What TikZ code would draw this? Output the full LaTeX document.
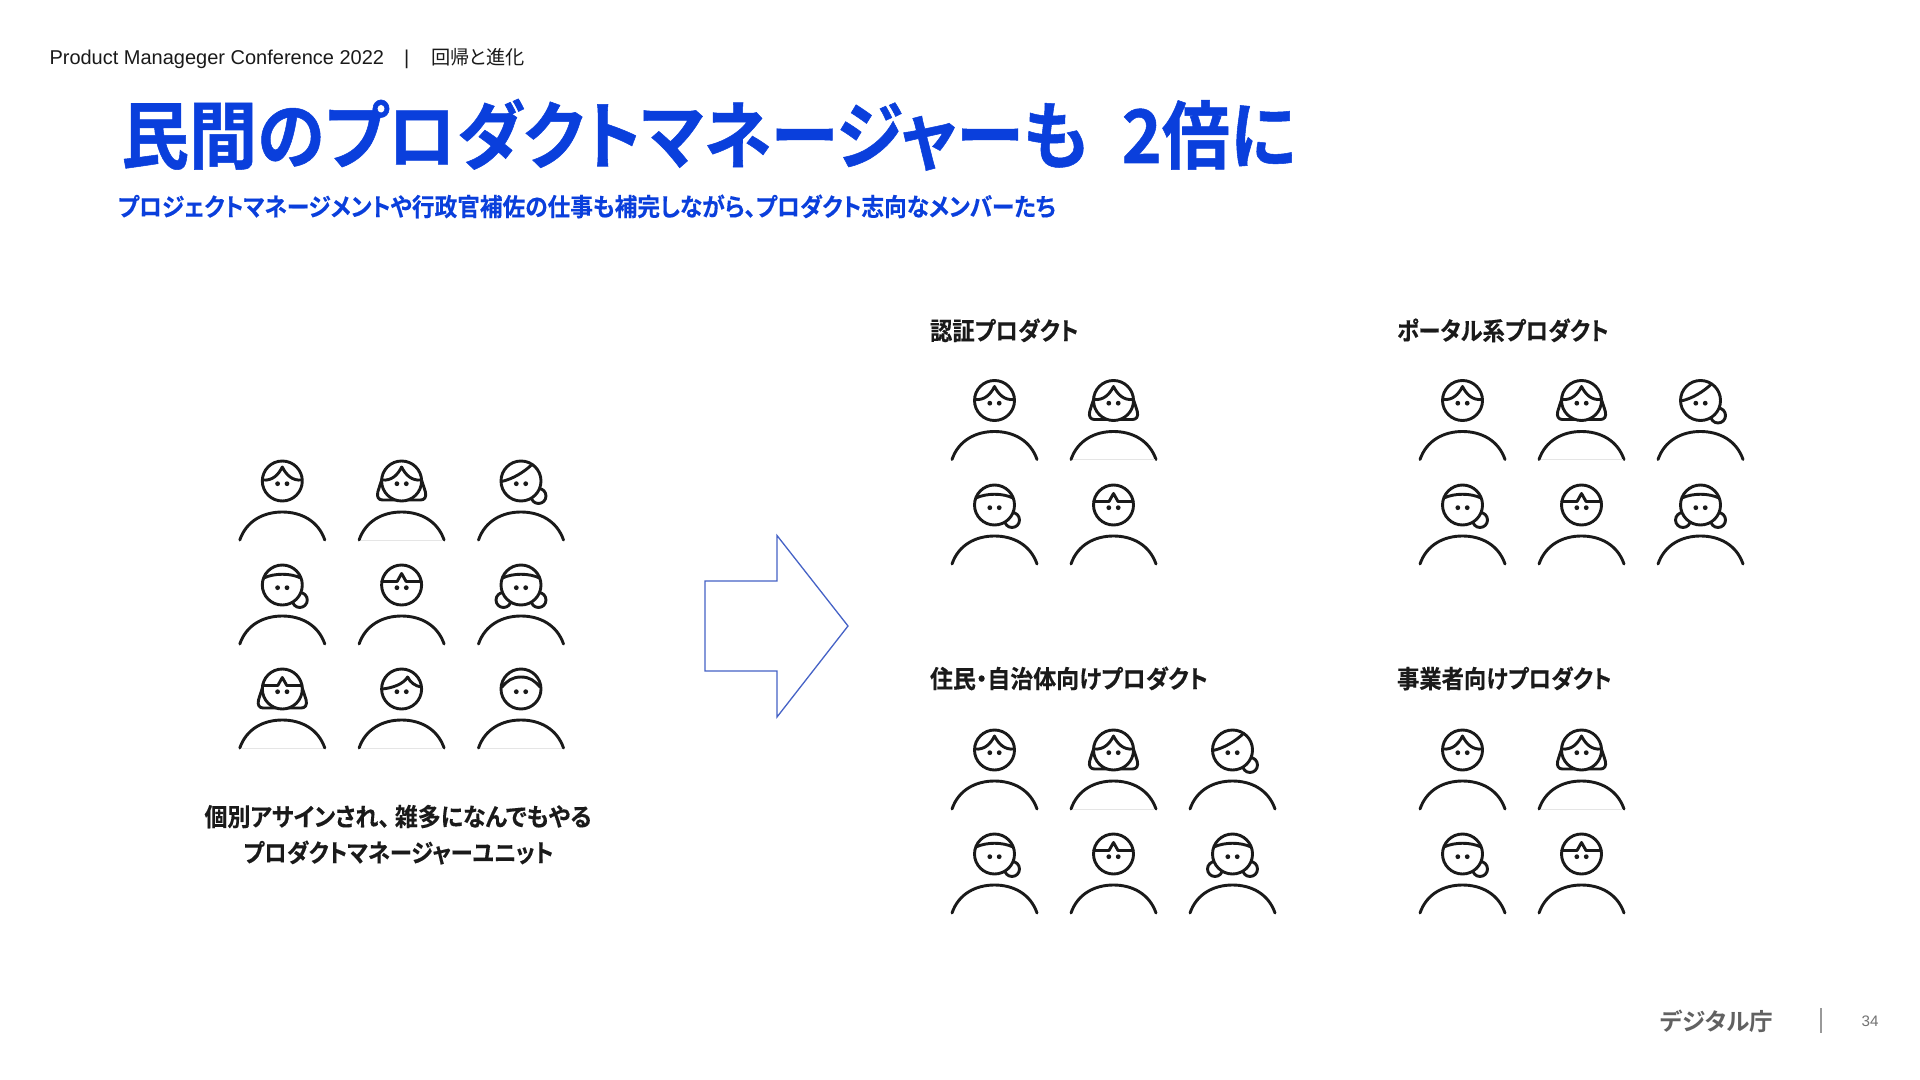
\documentclass[tikz,border=0pt]{standalone}
\usepackage{fontspec}
\setmainfont{Liberation Sans}
\newfontfamily\jpb[RawFeature=+palt]{Noto Sans CJK JP Bold}
\newfontfamily\jpt[RawFeature=+palt,FakeStretch=0.92,FakeBold=0.7]{Noto Sans CJK JP Bold}
\newfontfamily\jps[RawFeature=+palt,FakeStretch=0.914,FakeBold=0.25]{Noto Sans CJK JP Bold}
\newfontfamily\jpl[RawFeature=+palt,FakeStretch=0.9,FakeBold=0.25]{Noto Sans CJK JP Bold}
\newfontfamily\jpw[RawFeature=+palt,FakeStretch=0.925,FakeBold=0.25]{Noto Sans CJK JP Bold}
\newfontfamily\jpr[RawFeature=+palt]{Noto Sans CJK JP}
\definecolor{dablue}{HTML}{0A3FDC}
\definecolor{inkc}{HTML}{1A1A1A}
\definecolor{arrowc}{HTML}{4562C6}
\tikzset{
  x=0.5pt,y=-0.5pt,
  ln/.style={draw=inkc,line width=1.45pt,line cap=round,line join=round},
  lab/.style={anchor=base west,inner sep=0pt,outer sep=0pt,text=inkc},
  pics/pbody/.style={code={
    \draw[ln] (-42.5,59) .. controls (-36,40) and (-19,31) .. (0,31) .. controls (19,31) and (36,40) .. (42.5,59);
  }},
  pics/pbase/.style={code={\draw[draw=black!10,line width=0.4pt] (-41,59) -- (41,59);}},
  pics/phead/.style={code={
    \draw[ln,fill=white] (0,0) circle (20);
    \fill[inkc] (-4.7,2.7) circle (2.4) (4.7,2.7) circle (2.4);
  }},
  pics/bunr/.style={code={\draw[ln] (17.5,15) circle (7.5);}},
  pics/bunl/.style={code={\draw[ln] (-17.5,15) circle (7.5);}},
  pics/longhair/.style={code={
    \draw[ln,fill=white] (-14,-13) .. controls (-18,-8) and (-21,2) .. (-23.8,11) .. controls (-25,16) and (-23,19) .. (-19,19) -- (19,19) .. controls (23,19) and (25,16) .. (23.8,11) .. controls (21,2) and (18,-8) .. (14,-13);
  }},
  pics/hcenter/.style={code={\draw[ln] (-19.5,-1) .. controls (-10,0) and (-4,-6) .. (0,-14) .. controls (4,-6) and (10,0) .. (19.5,-1);}},
  pics/hside/.style={code={\draw[ln] (-19.5,0.5) .. controls (-8,-2) and (3,-9) .. (11,-16.5);}},
  pics/hband/.style={code={\draw[ln] (-18.5,-7) .. controls (-8,-12) and (8,-12) .. (18.5,-7);}},
  pics/hstar/.style={code={\draw[ln] (-19.7,-3.5) -- (-4.5,-3.5) -- (0,-11.5) -- (4.5,-3.5) -- (19.7,-3.5);}},
  pics/hasym/.style={code={\draw[ln] (-19.5,0) .. controls (-9,-1) and (2,-5) .. (6,-12) .. controls (9,-6) and (14,-3) .. (19.5,-2);}},
  pics/harch/.style={code={\draw[ln] (-19,-2) .. controls (-14,-8) and (-9,-12) .. (0,-12) .. controls (9,-12) and (14,-8) .. (19,-2);}},
  pics/pa/.style={code={\pic{pbody};\pic{phead};\pic{hcenter};}},
  pics/pb/.style={code={\pic{pbody};\pic{pbase};\pic{longhair};\pic{phead};\pic{hcenter};}},
  pics/pc/.style={code={\pic{pbody};\pic{bunr};\pic{phead};\pic{hside};}},
  pics/pd/.style={code={\pic{pbody};\pic{bunr};\pic{phead};\pic{hband};}},
  pics/pe/.style={code={\pic{pbody};\pic{phead};\pic{hstar};}},
  pics/pf/.style={code={\pic{pbody};\pic{bunr};\pic{bunl};\pic{phead};\pic{hband};}},
  pics/pg/.style={code={\pic{pbody};\pic{pbase};\pic{longhair};\pic{phead};\pic{hstar};}},
  pics/ph/.style={code={\pic{pbody};\pic{pbase};\pic{phead};\pic{hasym};}},
  pics/pi/.style={code={\pic{pbody};\pic{pbase};\pic{phead};\pic{harch};}},
}
\begin{document}
\begin{tikzpicture}
\useasboundingbox[fill=white] (0,0) rectangle (1920,1080);
% header
\node[lab,font=\fontsize{10}{12}\selectfont] (conf) at (49.5,65) {Product Manageger Conference 2022};
\node[lab,font=\fontsize{10}{12}\selectfont] (sep) at (404,65) {|};
\node[lab,font=\jpr\fontsize{9.6}{12}\selectfont] (theme) at (431,65) {回帰と進化};
% title
\node[lab,text=dablue,font=\jpt\fontsize{37}{40}\selectfont] (title) at (121,163) {民間のプロダクトマネージャーも\hspace{0.45em}2倍に};
\node[lab,text=dablue,font=\jps\fontsize{12.4}{14}\selectfont] (sub) at (118,216) {プロジェクトマネージメントや行政官補佐の仕事も補完しながら、プロダクト志向なメンバーたち};
% group labels
\node[lab,font=\jpl\fontsize{12.4}{14}\selectfont] (g1) at (930,340) {認証プロダクト};
\node[lab,font=\jpl\fontsize{12.4}{14}\selectfont] (g2) at (1397,340) {ポータル系プロダクト};
\node[lab,font=\jpw\fontsize{12.4}{14}\selectfont] (g3) at (930,688) {住民・自治体向けプロダクト};
\node[lab,font=\jpl\fontsize{12.4}{14}\selectfont] (g4) at (1397,688) {事業者向けプロダクト};
% caption
\node[anchor=base,inner sep=0pt,text=inkc,font=\jpw\fontsize{12.4}{14}\selectfont] (cap1) at (398,826) {個別アサインされ、\hspace{0.2em}雑多になんでもやる};
\node[anchor=base,inner sep=0pt,text=inkc,font=\jpl\fontsize{12.4}{14}\selectfont] (cap2) at (398.5,862) {プロダクトマネージャーユニット};
% arrow
\draw[draw=arrowc,line width=0.65pt,line join=miter] (705,581) -- (777,581) -- (777,535.5) -- (848,626) -- (777,717) -- (777,671) -- (705,671) -- cycle;
% left group
\pic at (282.3,481) {pa}; \pic at (401.6,481) {pb}; \pic at (521,481) {pc};
\pic at (282.3,585) {pd}; \pic at (401.6,585) {pe}; \pic at (521,585) {pf};
\pic at (282.3,689) {pg}; \pic at (401.6,689) {ph}; \pic at (521,689) {pi};
% auth
\pic at (994.5,400.5) {pa}; \pic at (1113.5,400.5) {pb};
\pic at (994.5,505) {pd}; \pic at (1113.5,505) {pe};
% portal
\pic at (1462.5,400.5) {pa}; \pic at (1581.5,400.5) {pb}; \pic at (1700.5,400.5) {pc};
\pic at (1462.5,505) {pd}; \pic at (1581.5,505) {pe}; \pic at (1700.5,505) {pf};
% residents
\pic at (994.5,750) {pa}; \pic at (1113.5,750) {pb}; \pic at (1232.5,750) {pc};
\pic at (994.5,854) {pd}; \pic at (1113.5,854) {pe}; \pic at (1232.5,854) {pf};
% business
\pic at (1462.5,750) {pa}; \pic at (1581.5,750) {pb};
\pic at (1462.5,854) {pd}; \pic at (1581.5,854) {pe};
% footer
\node[lab,text=black!62,font=\jpb\fontsize{11.8}{14}\selectfont] (da) at (1660,1030) {デジタル庁};
\coordinate (bara) at (1821,1008);
\coordinate (barb) at (1821,1033);
\draw[draw=black!40,line width=0.6pt] (bara) -- (barb);
\node[anchor=base,inner sep=0pt,text=black!55,font=\fontsize{7.6}{9}\selectfont] (pg) at (1870,1026) {34};
\end{tikzpicture}
\end{document}
